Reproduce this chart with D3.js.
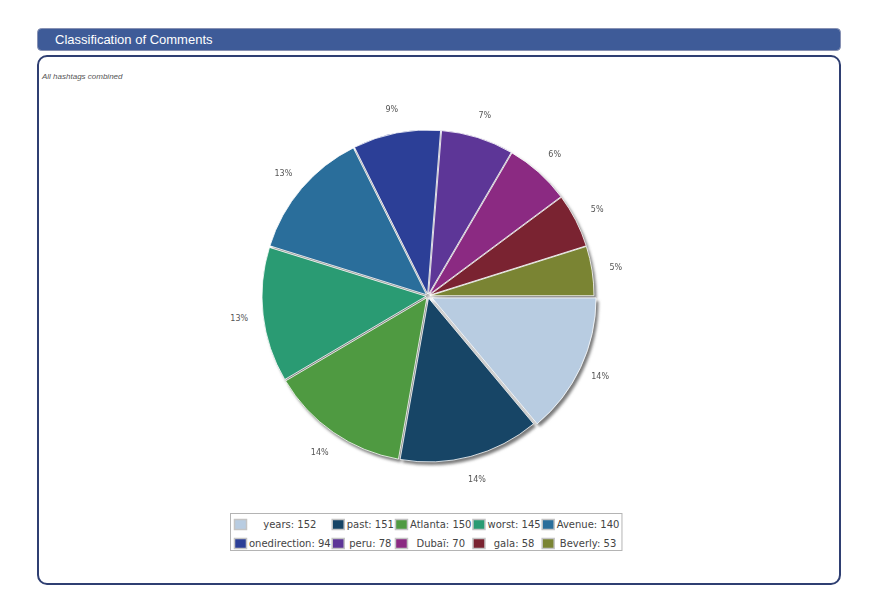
<!DOCTYPE html>
<html>
<head>
<meta charset="utf-8">
<script src="https://cdn.jsdelivr.net/npm/d3@7/dist/d3.min.js"></script>
<style>
html,body{margin:0;padding:0;background:#fff;}
svg{display:block;}
</style>
</head>
<body>
<svg id="chart" width="875" height="601"></svg>
<script>
const title = "Classification of Comments";
const subtitle = "All hashtags combined";
const categories = ["years","past","Atlanta","worst","Avenue","onedirection","peru","Dubaï","gala","Beverly"];
const values = [152,151,150,145,140,94,78,70,58,53];
const colors = ["#b8cce1","#174566","#4f9a41","#2a9b73","#2a6e9b","#2c3f97","#5d3697","#8b2a82","#7a2331","#7a8433"];

const svg = d3.select("#chart");
const defs = svg.append("defs");
const blur = defs.append("filter").attr("id","shblur").attr("x","-10%").attr("y","-10%").attr("width","120%").attr("height","120%");
blur.append("feGaussianBlur").attr("stdDeviation",1.6);

// header bar
svg.append("rect").attr("x",37.5).attr("y",28.5).attr("width",803).attr("height",22)
  .attr("rx",4).attr("fill","#3e5b98").attr("stroke","#8791b3").attr("stroke-width",1);
svg.append("text").attr("x",55).attr("y",44).attr("fill","#ffffff")
  .attr("font-family","Liberation Sans, Arial, sans-serif").attr("font-size",13).text(title);

// content box
svg.append("rect").attr("x",38).attr("y",56).attr("width",802).attr("height",528)
  .attr("rx",9).attr("fill","#ffffff").attr("stroke","#2f3f72").attr("stroke-width",2);

svg.append("text").attr("x",42).attr("y",79).attr("fill","#555")
  .attr("font-family","Liberation Sans, Arial, sans-serif").attr("font-style","italic")
  .attr("font-size",8).text(subtitle);

// pie
const cx = 428, cy = 296, R = 164, labelR = 190;
const total = d3.sum(values);
const data = categories.map((c,i)=>({name:c, value:values[i], color:colors[i]}));
const pie = d3.pie().sort(null).value(d=>d.value).startAngle(Math.PI/2).endAngle(Math.PI/2 + 2*Math.PI);
const arcs = pie(data);
const arc = d3.arc().innerRadius(0).outerRadius(R);
const labelArc = d3.arc().innerRadius(labelR).outerRadius(labelR);
const explode = (d,i) => {
  const a = (d.startAngle + d.endAngle)/2;
  const e = i === 0 ? 4.5 : 2;
  return [Math.sin(a)*e, -Math.cos(a)*e];
};

const g = svg.append("g").attr("transform",`translate(${cx},${cy})`);
// shadow
g.append("g").attr("filter","url(#shblur)").selectAll("path").data(arcs).enter().append("path")
  .attr("d",arc)
  .attr("transform",(d,i)=>{const o=explode(d,i);return `translate(${o[0]+2.5},${o[1]+3})`;})
  .attr("fill","#7a7a7a");
// slices
g.append("g").selectAll("path").data(arcs).enter().append("path")
  .attr("d",arc)
  .attr("transform",(d,i)=>{const o=explode(d,i);return `translate(${o[0]},${o[1]})`;})
  .attr("fill",d=>d.data.color)
  .attr("stroke","#ffffff").attr("stroke-width",0.8).attr("stroke-linejoin","round");
// labels
g.append("g").selectAll("text").data(arcs).enter().append("text")
  .attr("transform",d=>`translate(${labelArc.centroid(d)})`)
  .attr("text-anchor","middle").attr("dy","0.35em")
  .attr("font-family","DejaVu Sans, sans-serif").attr("font-size",8).attr("fill","#555")
  .text(d=>Math.round(d.data.value/total*100)+"%");

// legend
const perRow = 5;
const legendX = 230, legendY = 513;
const lg = svg.append("g");
const box = lg.append("rect").attr("fill","#fff").attr("stroke","#b4b4b4").attr("stroke-width",1);
const fontLeg = {family:"DejaVu Sans, sans-serif", size:10};
const meas = lg.append("text").attr("font-family",fontLeg.family).attr("font-size",fontLeg.size);
const labels = data.map(d=>`${d.name}: ${d.value}`);
const widths = labels.map(t=>{meas.text(t);return meas.node().getComputedTextLength();});
meas.remove();
const nCols = perRow;
const colW = d3.range(nCols).map(c=>d3.max(d3.range(c,data.length,nCols).map(i=>widths[i])));
const sw = 12, sh = 10, gapAfterSw = 3, colGap = 1;
let colX = [legendX+4];
for (let c=1;c<nCols;c++) colX.push(colX[c-1]+sw+gapAfterSw+colW[c-1]+colGap);
const rowY = [legendY+6, legendY+25];
data.forEach((d,i)=>{
  const c = i % nCols, r = Math.floor(i / nCols);
  lg.append("rect").attr("x",colX[c]+0.5).attr("y",rowY[r]+0.5).attr("width",sw).attr("height",sh)
    .attr("fill",d.color).attr("stroke","#c4c4c4").attr("stroke-width",1.5);
  lg.append("text").attr("x",colX[c]+sw+gapAfterSw+colW[c]/2).attr("y",rowY[r]+9)
    .attr("text-anchor","middle").attr("font-family",fontLeg.family).attr("font-size",fontLeg.size)
    .attr("fill","#444").text(labels[i]);
});
const lastX = colX[nCols-1]+sw+gapAfterSw+colW[nCols-1]+2;
box.attr("x",legendX+0.5).attr("y",legendY+0.5).attr("width",lastX-legendX).attr("height",37);
</script>
</body>
</html>
